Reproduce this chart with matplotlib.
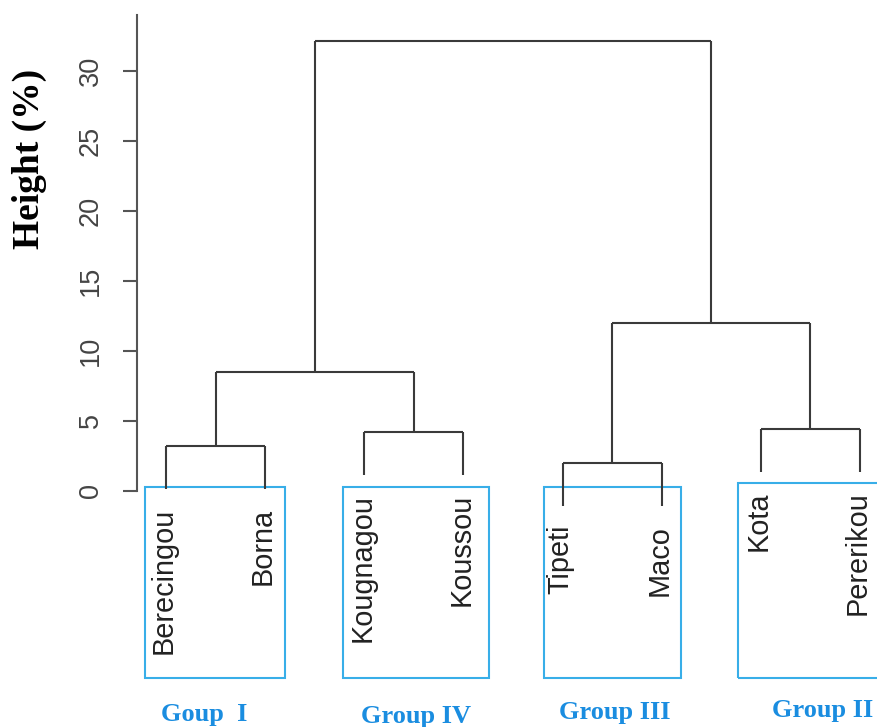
import matplotlib.pyplot as plt
from matplotlib.patches import Rectangle

# leaves in plotting order and the cluster heights
leaves = ['Berecingou', 'Borna', 'Kougnagou', 'Koussou', 'Tipeti', 'Maco', 'Kota', 'Pererikou']
group_names = ['Goup  I', 'Group IV', 'Group III', 'Group II']
pair_heights = [3.2, 4.2, 2.0, 4.4]     # merge inside each group
upper_heights = [8.45, 11.95]           # I+IV, III+II
root_height = 32.1
hang = 3.1
yticks = [0, 5, 10, 15, 20, 25, 30]

line_col = '#3a3a3a'
box_col = '#38aee8'
grp_col = '#1a8de0'

fig = plt.figure(figsize=(8.77, 7.27), dpi=100)
ax = fig.add_axes([137/877, 0, 1 - 137/877, 1 - 15/727])
ax.set_xlim(0.7075, 8.172)
ax.set_ylim(-16.88, 33.98)

def seg(x0, y0, x1, y1):
    ax.plot([x0, x1], [y0, y1], color=line_col, lw=1.5, solid_capstyle='butt', clip_on=False)

xs = list(range(1, len(leaves) + 1))
centers = []
for i, h in enumerate(pair_heights):
    xl, xr = xs[2*i], xs[2*i+1]
    seg(xl, h - hang, xl, h)
    seg(xr, h - hang, xr, h)
    seg(xl, h, xr, h)
    centers.append((xl + xr) / 2)
    for x, name in ((xl, leaves[2*i]), (xr, leaves[2*i+1])):
        ax.annotate(name, (x, h - hang), xytext=(-1.5, -13.5), textcoords='offset points',
                    rotation=90, ha='center', va='top', fontsize=20.8,
                    family='Liberation Sans', color='#222222')

tops = []
for j, h in enumerate(upper_heights):
    ca, cb = centers[2*j], centers[2*j+1]
    pa, pb = pair_heights[2*j], pair_heights[2*j+1]
    seg(ca, pa, ca, h)
    seg(cb, pb, cb, h)
    seg(ca, h, cb, h)
    tops.append((ca + cb) / 2)

seg(tops[0], upper_heights[0], tops[0], root_height)
seg(tops[1], upper_heights[1], tops[1], root_height)
seg(tops[0], root_height, tops[1], root_height)

# blue boxes round each group
box_x = [(0.788, 2.20), (2.785, 4.258), (4.81, 6.195), (6.77, 8.35)]
box_top = [0.26, 0.26, 0.26, 0.55]
box_bot = -13.4
for (x0, x1), yt in zip(box_x, box_top):
    ax.add_patch(Rectangle((x0, box_bot), x1 - x0, yt - box_bot, fill=False,
                           ec=box_col, lw=1.5, clip_on=False))

grp_x = [1.39, 3.52, 5.53, 7.62]
grp_y = [-16.0, -16.15, -15.85, -15.7]
for name, gx, gy in zip(group_names, grp_x, grp_y):
    ax.text(gx, gy, name, ha='center', va='center', fontsize=19, fontweight='bold',
            family='Liberation Serif', color=grp_col)

for s in ['top', 'right', 'bottom']:
    ax.spines[s].set_visible(False)
ax.spines['left'].set_bounds(0, 33.98)
ax.spines['left'].set_color('#555555')
ax.spines['left'].set_linewidth(1.5)
ax.set_xticks([])
ax.set_yticks(yticks)
ax.tick_params(axis='y', length=10, width=1.5, color='#555555', pad=14,
               labelsize=19.5, labelcolor='#444444')
for lab in ax.get_yticklabels():
    lab.set_rotation(90)
    lab.set_va('center')
    lab.set_family('Liberation Sans')

fig.text(29/877, 1 - 159/727, 'Height (%)', rotation=90, ha='center', va='center',
         fontsize=27, fontweight='bold', family='Liberation Serif', color='black')

fig.savefig('out.png', dpi=100)
